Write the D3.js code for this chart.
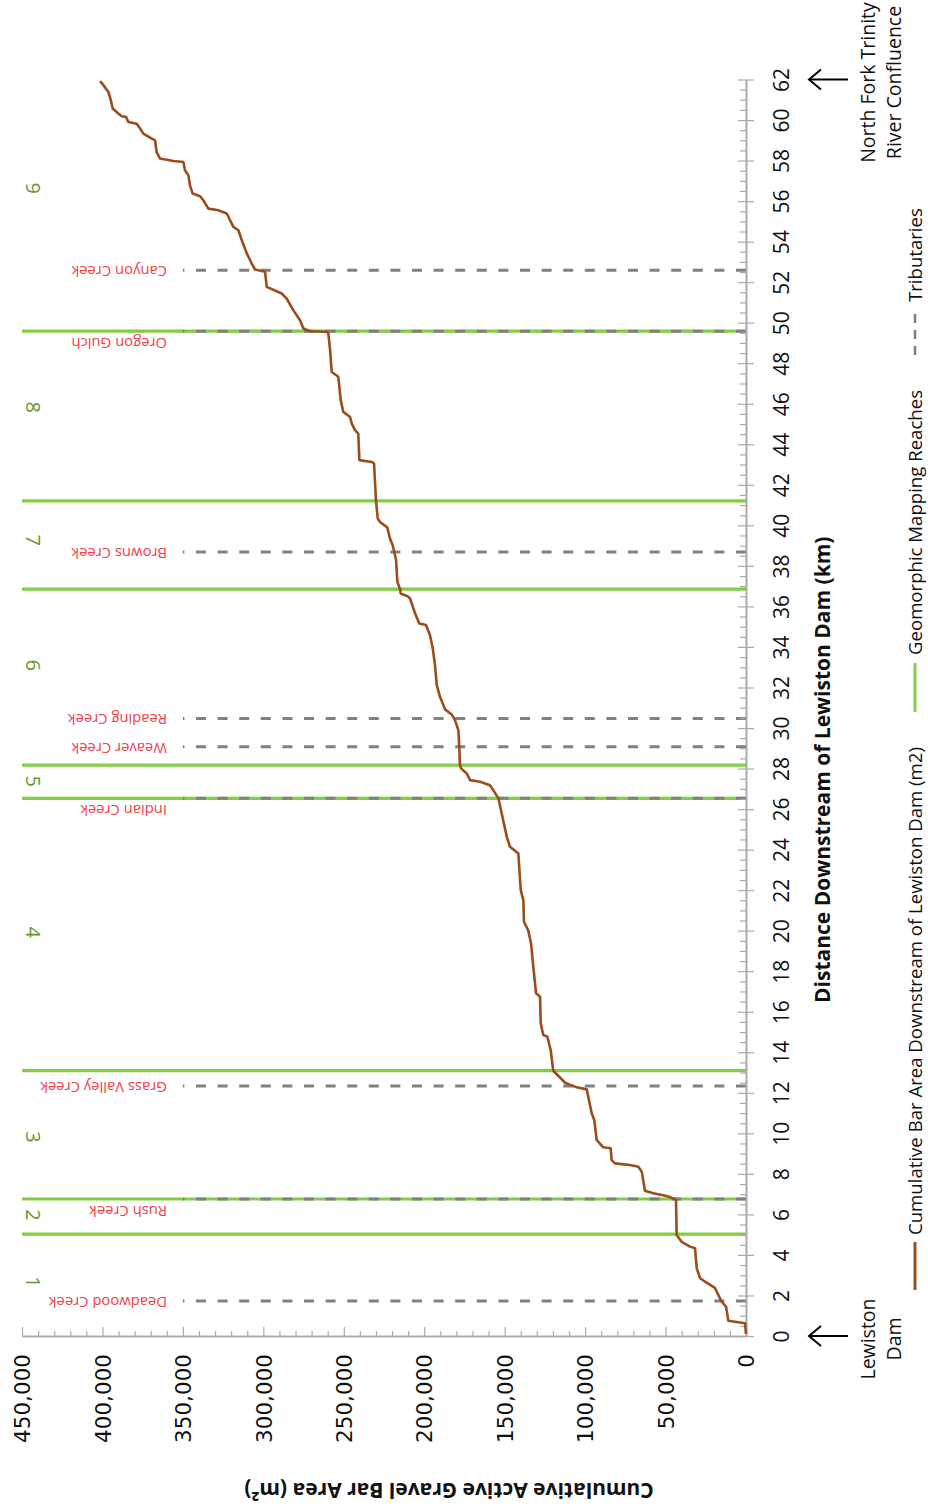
<!DOCTYPE html>
<html>
<head>
<meta charset="utf-8">
<script src="https://cdn.jsdelivr.net/npm/d3@7"></script>
<style>
  html, body { margin: 0; padding: 0; background: #fff; }
  svg { display: block; }
</style>
</head>
<body>
<svg id="chart" width="928" height="1508"></svg>
<script>
// Cumulative active gravel bar area along the river, km below Lewiston Dam
const kmPts = [0.1,0.63,0.75,1.45,1.69,2.37,2.68,2.86,3.34,4.33,
  4.41,4.65,4.98,6.71,6.79,6.91,7.04,7.17,8.11,8.35,
  8.44,8.52,8.68,9.26,9.31,9.67,10.66,10.99,12.17,12.27,
  12.5,13.09,14.11,14.77,14.85,15.43,16.74,16.91,18.22,19.37,
  20.0,20.44,21.51,22.0,23.81,24.14,24.64,26.53,26.85,27.18,
  27.35,27.43,27.76,28.01,28.17,29.07,29.9,30.39,30.67,30.92,
  31.13,31.54,32.12,33.1,33.93,34.58,35.08,35.16,35.66,36.39,
  36.51,36.64,36.85,37.21,38.28,38.69,39.02,39.35,39.89,40.17,
  40.34,41.24,43.05,43.13,43.22,44.53,44.7,45.03,45.35,45.6,
  46.18,47.33,47.57,48.64,49.47,49.55,49.58,49.71,50.12,50.62,
  51.19,51.44,51.77,52.51,52.63,52.92,53.42,54.07,54.56,54.73,
  55.06,55.39,55.55,55.63,56.04,56.24,56.37,56.78,57.28,57.52,
  57.93,57.98,58.1,58.42,59.0,59.13,59.33,59.58,59.82,59.9,
  60.15,60.19,60.32,60.57,60.98,61.39,61.72,61.92];

const areaPts = [0,600,11000,12400,15100,19300,25500,28600,30600,31700,
  34800,40000,43100,43500,45200,49300,57600,62800,64800,66900,
  72100,81400,83500,84100,88700,92800,94300,95900,99000,105200,
  112500,119800,121400,123500,126000,127600,128000,130500,132200,133600,
  135300,138000,138400,140000,141500,146700,148700,153900,156400,159100,
  165300,171500,173600,177100,177800,178200,178800,180900,182900,187100,
  188100,190200,192200,193300,194700,196400,198900,203100,205700,208800,
  210500,214600,215000,216700,217500,218600,219600,221300,222900,227500,
  228900,230000,231200,232600,240300,241000,243000,245100,246100,250300,
  251900,253400,257500,258500,259600,260600,271000,275100,277200,281400,
  285500,288600,297900,298900,305200,307200,310300,313400,315500,318600,
  320700,322700,328000,334200,337300,339300,343900,345600,346600,348700,
  349700,355900,364200,366300,367300,370400,374600,376600,378700,383900,
  385300,388000,390100,393600,394800,396300,399400,401500];

// Geomorphic mapping reach boundaries (km) and reach numbers
const reachBounds = [5.03, 6.76, 13.09, 26.53, 28.17, 36.85, 41.21, 49.58];
const reachNames = ["1","2","3","4","5","6","7","8","9"];
const reachLabelKm = [2.66, 5.97, 9.82, 19.93, 27.38, 33.1, 39.27, 45.83, 56.63];

// Tributary confluences (km)
const tribNames = ["Deadwood Creek","Rush Creek","Grass Valley Creek","Indian Creek",
  "Weaver Creek","Reading Creek","Browns Creek","Oregon Gulch","Canyon Creek"];
const tribKm = [1.73, 6.76, 12.33, 26.53, 29.07, 30.47, 38.69, 49.58, 52.59];

// Axis ticks
const kmMajor = d3.range(0, 63, 2);
const kmMinor = d3.range(0, 62.01, 0.5).filter(v => v % 2 !== 0);
const areaMajor = d3.range(0, 450001, 50000);
const areaMinor = d3.range(0, 450001, 10000).filter(v => v % 50000 !== 0);

const legendLabels = ["Cumulative Bar Area Downstream of Lewiston Dam (m2)",
  "Geomorphic Mapping Reaches", "Tributaries"];

const C = {
  axis: "#a9a9a9", brown: "#9a4d1c", green: "#82cd42", dash: "#808080",
  creek: "#f0404c", reach: "#6a9435", text: "#111"
};
const SANS = "'Open Sans', 'Noto Sans', sans-serif";

const svg = d3.select("#chart");

// Distance runs up the page, area runs right-to-left
const yKm = d3.scaleLinear().domain([0, 62]).range([1336, 79.5]);
const xArea = d3.scaleLinear().domain([0, 450000]).range([746, 22]);

// Reach boundaries
svg.append("g").selectAll("line").data(reachBounds).join("line")
  .attr("x1", xArea(450000)).attr("x2", xArea(0))
  .attr("y1", d => yKm(d)).attr("y2", d => yKm(d))
  .attr("stroke", C.green).attr("stroke-width", 3.2);

// Tributary lines
svg.append("g").selectAll("line").data(tribKm).join("line")
  .attr("x1", xArea(0)).attr("x2", xArea(350000))
  .attr("y1", d => yKm(d)).attr("y2", d => yKm(d))
  .attr("stroke", C.dash).attr("stroke-width", 3)
  .attr("stroke-dasharray", "10,11.6");

// Distance axis
function styleAxis(g) {
  g.select(".domain").attr("stroke", C.axis).attr("stroke-width", 1.6);
  g.selectAll(".tick line").attr("stroke", C.axis).attr("stroke-width", 1.2);
}
const gKmMinor = svg.append("g").attr("transform", `translate(${xArea(0)},0)`)
  .call(d3.axisRight(yKm).tickValues(kmMinor).tickFormat("").tickSize(-6).tickSizeOuter(0))
  .call(styleAxis);
gKmMinor.selectAll(".tick line").attr("x2", -6).attr("x1", 1);

const gKm = svg.append("g").attr("transform", `translate(${xArea(0)},0)`)
  .call(d3.axisRight(yKm).tickValues(kmMajor).tickFormat(d3.format("d")).tickSize(8).tickSizeOuter(0))
  .call(styleAxis);
gKm.selectAll(".tick line").attr("x1", -8).attr("x2", 8);
gKm.selectAll(".tick text")
  .attr("x", 0).attr("y", 0).attr("dy", "0.36em")
  .attr("transform", "translate(35,0) rotate(-90)")
  .attr("text-anchor", "middle")
  .attr("fill", C.text)
  .style("font-family", SANS).style("font-size", "21px");

// Area axis
const gAreaMinor = svg.append("g").attr("transform", `translate(0,${yKm(0)})`)
  .call(d3.axisBottom(xArea).tickValues(areaMinor).tickFormat("").tickSize(-5).tickSizeOuter(0))
  .call(styleAxis);
const gArea = svg.append("g").attr("transform", `translate(0,${yKm(0)})`)
  .call(d3.axisBottom(xArea).tickValues(areaMajor).tickFormat(d3.format(",")).tickSize(-9).tickSizeOuter(0))
  .call(styleAxis);
gArea.selectAll(".tick text")
  .attr("x", 0).attr("y", 0).attr("dy", "0.36em")
  .attr("transform", "translate(0,18) rotate(-90)")
  .attr("text-anchor", "end")
  .attr("fill", C.text)
  .style("font-family", "'DejaVu Sans', Verdana, sans-serif").style("font-size", "21.5px");

// Cumulative area line
const line = d3.line().x(i => xArea(areaPts[i])).y(i => yKm(kmPts[i]));
svg.append("path")
  .attr("d", line(d3.range(kmPts.length)))
  .attr("fill", "none").attr("stroke", C.brown)
  .attr("stroke-width", 2.6).attr("stroke-linejoin", "round");

// Reach numbers
svg.append("g").selectAll("text").data(reachNames).join("text")
  .attr("transform", (d, i) => `translate(33,${yKm(reachLabelKm[i])}) rotate(90)`)
  .attr("text-anchor", "middle").attr("dy", "0.36em")
  .attr("fill", C.reach)
  .style("font-family", SANS).style("font-size", "20px")
  .text(d => d);

// Tributary names (labels sharing a reach boundary sit just below it)
svg.append("g").selectAll("text").data(tribNames).join("text")
  .attr("transform", (d, i) => {
    const shared = reachBounds.some(b => Math.abs(b - tribKm[i]) < 0.05);
    return `translate(167,${yKm(tribKm[i]) + (shared ? 12 : 1)}) rotate(180)`;
  })
  .attr("text-anchor", "start").attr("dy", "0.36em")
  .attr("fill", C.creek)
  .style("font-family", SANS).style("font-size", "14.8px")
  .text(d => d);

// Axis titles
svg.append("text")
  .attr("transform", `translate(822,${(yKm(0) + yKm(62)) / 2 + 62}) rotate(-90)`)
  .attr("text-anchor", "middle").attr("dy", "0.36em")
  .attr("fill", C.text).style("font-family", SANS)
  .style("font-size", "21px").style("font-weight", "bold")
  .text("Distance Downstream of Lewiston Dam (km)");

svg.append("text")
  .attr("transform", "translate(449,1491) rotate(180)")
  .attr("text-anchor", "middle").attr("dy", "0.36em")
  .attr("fill", C.text).style("font-family", SANS)
  .style("font-size", "21px").style("font-weight", "bold")
  .text("Cumulative Active Gravel Bar Area (m²)");

// End-point arrows and notes
function endArrow(km) {
  const y = yKm(km);
  svg.append("line").attr("x1", 848).attr("x2", 809).attr("y1", y).attr("y2", y)
    .attr("stroke", "#000").attr("stroke-width", 2);
  svg.append("polyline")
    .attr("points", `821,${y - 10} 809,${y} 821,${y + 10}`)
    .attr("fill", "none").attr("stroke", "#000").attr("stroke-width", 2);
}
endArrow(0);
endArrow(62);

function note(lines, km) {
  lines.forEach((t, j) => {
    svg.append("text")
      .attr("transform", `translate(${868 + j * 26},${yKm(km) + 3}) rotate(-90)`)
      .attr("text-anchor", "middle").attr("dy", "0.36em")
      .attr("fill", C.text).style("font-family", SANS).style("font-size", "19.5px")
      .text(t);
  });
}
note(["Lewiston", "Dam"], 0);
note(["North Fork Trinity", "River Confluence"], 62);

// Legend
const lg = svg.append("g").attr("transform", "translate(915,0)");
lg.append("line").attr("y1", 1290).attr("y2", 1242)
  .attr("stroke", C.brown).attr("stroke-width", 3);
lg.append("line").attr("y1", 712).attr("y2", 663)
  .attr("stroke", C.green).attr("stroke-width", 3);
lg.append("line").attr("y1", 355).attr("y2", 312)
  .attr("stroke", C.dash).attr("stroke-width", 2.5).attr("stroke-dasharray", "9,7");
[[1235, 0], [655, 1], [302, 2]].forEach(([y, k]) => {
  lg.append("text")
    .attr("transform", `translate(0,${y}) rotate(-90)`)
    .attr("text-anchor", "start").attr("dy", "0.36em")
    .attr("fill", C.text).style("font-family", SANS).style("font-size", "18.6px")
    .text(legendLabels[k]);
});
</script>
</body>
</html>
